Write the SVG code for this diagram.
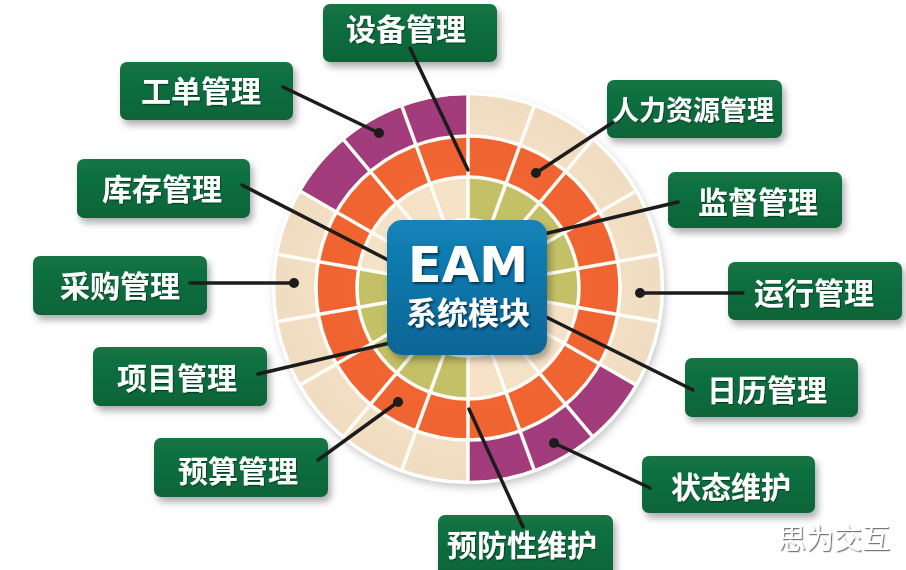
<svg xmlns="http://www.w3.org/2000/svg" width="906" height="570" viewBox="0 0 906 570">
  <defs>
    <filter id="boxShadow" x="-20%" y="-30%" width="150%" height="180%">
      <feDropShadow dx="3" dy="5" stdDeviation="3.5" flood-color="#000" flood-opacity="0.32"/>
    </filter>
    <filter id="wheelShadow" x="-20%" y="-20%" width="140%" height="140%">
      <feDropShadow dx="2" dy="4" stdDeviation="4" flood-color="#000" flood-opacity="0.25"/>
    </filter>
    <filter id="textShadow" x="-20%" y="-30%" width="140%" height="160%">
      <feDropShadow dx="1.5" dy="2" stdDeviation="1.2" flood-color="#001a2a" flood-opacity="0.7"/>
    </filter>
    <filter id="labelTextShadow" x="-10%" y="-30%" width="130%" height="160%">
      <feDropShadow dx="1" dy="1.2" stdDeviation="0.6" flood-color="#00250f" flood-opacity="0.6"/>
    </filter>
    <filter id="wmShadow" x="-10%" y="-30%" width="130%" height="170%">
      <feDropShadow dx="1.2" dy="1.2" stdDeviation="0.5" flood-color="#555" flood-opacity="0.8"/>
    </filter>
    <linearGradient id="greenBox" x1="0" y1="0" x2="0" y2="1">
      <stop offset="0" stop-color="#137444"/>
      <stop offset="1" stop-color="#0b6438"/>
    </linearGradient>
    <linearGradient id="blueBox" x1="0" y1="0" x2="0" y2="1">
      <stop offset="0" stop-color="#1383b8"/>
      <stop offset="1" stop-color="#0a6596"/>
    </linearGradient>
    <radialGradient id="wheelShade" cx="468" cy="288" r="193" gradientUnits="userSpaceOnUse">
      <stop offset="0.5" stop-color="#000" stop-opacity="0"/>
      <stop offset="1" stop-color="#5a3000" stop-opacity="0.03"/>
    </radialGradient>
  </defs>
  <style>
    .ring { fill: none; stroke-width: 41; }
    .cream { stroke: #f5e2c7; }
    .orange { stroke: #f26531; }
    .purple { stroke: #a43c7e; }
    .olive { stroke: #c3c066; }
    .spoke { stroke: #fffdf8; stroke-width: 3.5; }
    .gap { fill: none; stroke: #fffdf8; stroke-width: 3.5; }
    .label rect { fill: url(#greenBox); filter: url(#boxShadow); }
    .label text { fill: #ffffff; font-family: "Noto Sans CJK SC", "Noto Sans", sans-serif; font-weight: 700; font-size: 30px; text-anchor: middle; filter: url(#labelTextShadow); }
    .conn line { stroke: #1c1c1c; stroke-width: 3.5; stroke-linecap: round; }
    .conn circle { fill: #1c1c1c; }
  </style>
  <rect width="906" height="570" fill="#ffffff"/>

  <!-- wheel -->
  <g id="wheel">
    <circle cx="468" cy="288" r="195" fill="#ffffff" filter="url(#wheelShadow)"/>
    <circle class="ring cream" cx="468" cy="288" r="172.5"/>
    <path class="ring purple" d="M617.39,374.25 A172.5,172.5 0 0 1 468,460.5"/>
    <path class="ring purple" d="M318.61,201.75 A172.5,172.5 0 0 1 468,115.5"/>
    <circle class="ring orange" cx="468" cy="288" r="131.5"/>
    <circle class="ring cream" cx="468" cy="288" r="90.5"/>
    <path class="ring olive" d="M468,197.5 A90.5,90.5 0 0 1 557.13,303.72"/>
    <path class="ring olive" d="M468,378.5 A90.5,90.5 0 0 1 378.87,272.28"/>
    <circle cx="468" cy="288" r="193" fill="url(#wheelShade)"/>
    <circle class="gap" cx="468" cy="288" r="111"/>
    <circle class="gap" cx="468" cy="288" r="152"/>
    <circle cx="468" cy="288" r="194.5" fill="none" stroke="#ffffff" stroke-width="3.5"/>
    <g class="spoke">
      <line x1="468" y1="218" x2="468" y2="94"/>
      <line x1="491.94" y1="222.22" x2="534.35" y2="105.70"/>
      <line x1="513.0" y1="234.38" x2="592.70" y2="139.39"/>
      <line x1="528.62" y1="253" x2="636.01" y2="191"/>
      <line x1="536.94" y1="275.84" x2="659.05" y2="254.31"/>
      <line x1="536.94" y1="300.16" x2="659.05" y2="321.69"/>
      <line x1="528.62" y1="323" x2="636.01" y2="385"/>
      <line x1="513.0" y1="341.62" x2="592.70" y2="436.61"/>
      <line x1="491.94" y1="353.78" x2="534.35" y2="470.30"/>
      <line x1="468" y1="358" x2="468" y2="482"/>
      <line x1="444.06" y1="353.78" x2="401.65" y2="470.30"/>
      <line x1="423.0" y1="341.62" x2="343.30" y2="436.61"/>
      <line x1="407.38" y1="323" x2="299.99" y2="385"/>
      <line x1="399.06" y1="300.16" x2="276.95" y2="321.69"/>
      <line x1="399.06" y1="275.84" x2="276.95" y2="254.31"/>
      <line x1="407.38" y1="253" x2="299.99" y2="191"/>
      <line x1="423.0" y1="234.38" x2="343.30" y2="139.39"/>
      <line x1="444.06" y1="222.22" x2="401.65" y2="105.70"/>
    </g>
  </g>

  <!-- label nodes -->
  <g id="node-shebei" class="label"><rect x="323" y="4" width="174" height="58" rx="7"/><text x="406" y="40.4">设备管理</text></g>
  <g id="node-gongdan" class="label"><rect x="120" y="62" width="173" height="58" rx="7"/><text x="201" y="102.4">工单管理</text></g>
  <g id="node-kucun" class="label"><rect x="77" y="159" width="173" height="59" rx="7"/><text x="162" y="200.4">库存管理</text></g>
  <g id="node-caigou" class="label"><rect x="33" y="256" width="174" height="59" rx="7"/><text x="120" y="297.4">采购管理</text></g>
  <g id="node-xiangmu" class="label"><rect x="93" y="347" width="174" height="59" rx="7"/><text x="177" y="389.4">项目管理</text></g>
  <g id="node-yusuan" class="label"><rect x="154" y="438" width="174" height="59" rx="7"/><text x="238" y="482.4">预算管理</text></g>
  <g id="node-yufang" class="label"><rect x="438" y="515" width="175" height="62" rx="7"/><text x="522" y="556.4">预防性维护</text></g>
  <g id="node-zhuangtai" class="label"><rect x="642" y="456" width="173" height="57" rx="7"/><text x="731" y="498.4">状态维护</text></g>
  <g id="node-rili" class="label"><rect x="685" y="358" width="173" height="59" rx="7"/><text x="767" y="401.4">日历管理</text></g>
  <g id="node-yunxing" class="label"><rect x="728" y="262" width="174" height="58" rx="7"/><text x="814" y="304.4">运行管理</text></g>
  <g id="node-jiandu" class="label"><rect x="668" y="172" width="174" height="56" rx="7"/><text x="758" y="213.4">监督管理</text></g>
  <g id="node-renli" class="label"><rect x="607" y="80" width="175" height="58" rx="7"/><text x="693" y="120.3" style="font-size:27px">人力资源管理</text></g>

  <!-- connectors -->
  <g id="connectors" class="conn">
    <line x1="410" y1="48" x2="468" y2="170"/>
    <line x1="283" y1="87" x2="379" y2="133"/><circle cx="379" cy="133" r="5"/>
    <line x1="242" y1="185" x2="390" y2="261"/>
    <line x1="190" y1="283" x2="294" y2="283"/><circle cx="294" cy="283" r="5"/>
    <line x1="258" y1="374" x2="390" y2="343"/>
    <line x1="318" y1="460" x2="398" y2="402"/><circle cx="398" cy="402" r="5"/>
    <line x1="523" y1="527" x2="469" y2="409"/>
    <line x1="650" y1="488" x2="554" y2="443"/><circle cx="554" cy="443" r="5"/>
    <line x1="693" y1="390" x2="544" y2="316"/>
    <line x1="743" y1="293" x2="640" y2="293"/><circle cx="640" cy="293" r="5"/>
    <line x1="678" y1="202" x2="544" y2="234"/>
    <line x1="612" y1="123" x2="536" y2="173"/><circle cx="536" cy="173" r="5"/>
  </g>

  <!-- center node -->
  <g id="node-eam">
    <rect x="387" y="220" width="160" height="135" rx="15" fill="url(#blueBox)" filter="url(#boxShadow)"/>
    <text x="468" y="282" fill="#ffffff" font-family="'DejaVu Sans', 'Liberation Sans', sans-serif" font-weight="700" font-size="49" text-anchor="middle" filter="url(#textShadow)">EAM</text>
    <text x="468" y="324" fill="#ffffff" font-family="'Noto Sans CJK SC', 'Noto Sans', sans-serif" font-weight="700" font-size="31" text-anchor="middle" filter="url(#textShadow)">系统模块</text>
  </g>

  <!-- watermark -->
  <text x="834" y="549" fill="#ffffff" font-family="'Noto Sans CJK SC', sans-serif" font-weight="400" font-size="28" text-anchor="middle" filter="url(#wmShadow)">思为交互</text>
</svg>
